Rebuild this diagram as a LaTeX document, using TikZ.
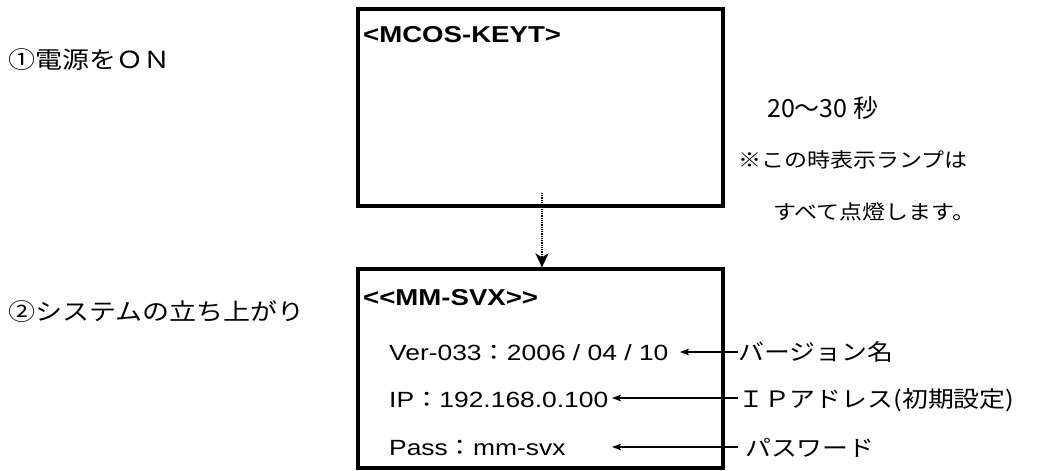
\documentclass[tikz,border=0pt]{standalone}
\usepackage{fontspec}
\setmainfont[FakeStretch=1.2,Ligatures=NoCommon]{Liberation Sans}
\newfontfamily\jp[FakeStretch=1.15]{Noto Sans CJK JP}
\newfontfamily\jpn{Noto Sans CJK JP}
\usetikzlibrary{arrows.meta}
\begin{document}
\begin{tikzpicture}[x=1pt,y=-1pt,
  screen/.style={draw=black, line width=3.2pt, inner sep=0pt, minimum width=365pt},
  head/.style={anchor=base west, inner sep=0pt, font=\fontsize{23}{27}\selectfont\bfseries},
  info/.style={anchor=base west, inner sep=0pt, font=\fontsize{22}{26}\selectfont},
  steplab/.style={anchor=base west, inner sep=0pt, font=\jp\fontsize{23.5}{28}\selectfont},
  note/.style={anchor=base west, inner sep=0pt, font=\jp\fontsize{20}{24}\selectfont},
  annot/.style={anchor=base west, inner sep=0pt, font=\jp\fontsize{22.5}{27}\selectfont},
  pointer/.style={line width=1.6pt, -{Stealth[length=9pt,width=6.5pt,inset=2pt]}},
  flow/.style={line width=2.6pt, dash pattern=on 1pt off 0.8pt, -{Stealth[length=14pt,width=13pt,inset=4pt]}}
]
\useasboundingbox (0,0) rectangle (1039,471);

% screens
\node[screen, minimum height=197pt] (box1) at (540.5,107.5) {};
\node[screen, minimum height=199pt] (box2) at (540.5,368.5) {};

% screen texts
\node[head] (mcos) at (363,42) {{<}MCOS-KEYT{>}};
\node[head] (mmsvx) at (363,305) {{<}{<}MM-SVX{>}{>}};
\node[info] (ver) at (389,360) {Ver-033{\jp ：}2006 / 04 / 10};
\node[info] (ip) at (389,407) {IP{\jp ：}192.168.0.100};
\node[info] (pass) at (389,455) {Pass{\jp ：}mm-svx};

% step labels
\node[steplab] (s1) at (8,68) {①電源をＯＮ};
\node[steplab] (s2) at (8,320) {②システムの立ち上がり};

% notes
\node[anchor=base west, inner sep=0pt, font=\jpn\fontsize{25}{29}\selectfont] (time) at (767,117) {20～30 秒};
\node[note] (note1) at (738,167) {※この時表示ランプは};
\node[note] (note2) at (773,219) {すべて点燈します。};

% annotations
\node[annot] (lver) at (738,360) {バージョン名};
\node[annot] (lip) at (738,407) {ＩＰアドレス(初期設定)};
\node[annot] (lpass) at (745,456) {パスワード};

% connector coordinates
\coordinate (dotStart) at (542,193);
\coordinate (verTail) at (738,352);
\coordinate (verTip) at (680,352);
\coordinate (ipTail) at (738,398);
\coordinate (ipTip) at (612,398);
\coordinate (passTail) at (738,447);
\coordinate (passTip) at (612,447);

% connectors
\draw[flow] (dotStart) -- (dotStart |- box2.north);
\draw[pointer] (verTail) -- (verTip);
\draw[pointer] (ipTail) -- (ipTip);
\draw[pointer] (passTail) -- (passTip);
\end{tikzpicture}
\end{document}
